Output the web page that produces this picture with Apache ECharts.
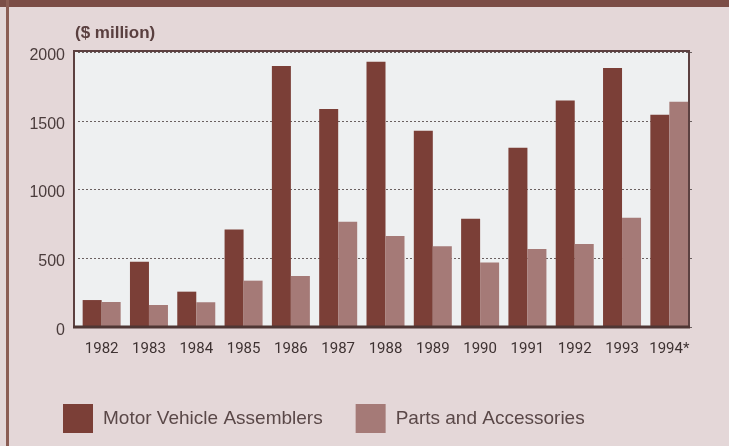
<!DOCTYPE html>
<html>
<head>
<meta charset="utf-8">
<script src="https://cdn.jsdelivr.net/npm/echarts@6/dist/echarts.min.js"></script>
<style>
html,body{margin:0;padding:0;background:#e4d7d8;}
#c{width:729px;height:446px;}
</style>
</head>
<body>
<div id="c"></div>
<script>
var years = ['1982','1983','1984','1985','1986','1987','1988','1989','1990','1991','1992','1993','1994*'];
var motorVehicleAssemblers = [196, 475, 257, 710, 1898, 1585, 1930, 1428, 788, 1304, 1648, 1884, 1544];
var partsAndAccessories = [182, 160, 180, 337, 371, 766, 662, 587, 470, 567, 604, 795, 1639];
var yTicks = [0, 500, 1000, 1500, 2000];
var unitLabel = '($ million)';

var chart = echarts.init(document.getElementById('c'), null, {renderer: 'canvas'});
var option = {
  backgroundColor: '#e4d7d8',
  animation: false,
  title: {
    text: unitLabel,
    left: 70, top: 20,
    textStyle: {fontFamily: 'Liberation Sans', fontWeight: 'bold', fontSize: 17, color: '#5a4040'}
  },
  graphic: [
    {type: 'rect', shape: {x: 0, y: 0, width: 729, height: 7}, style: {fill: '#7b4d46'}, z: 0},
    {type: 'rect', shape: {x: 6, y: 0, width: 3, height: 446}, style: {fill: '#8b5d54'}, z: 0},
    {type: 'rect', shape: {x: 74, y: 51, width: 615, height: 276}, style: {fill: '#eef0f1'}, z: -10, silent: true},
    {type: 'rect', shape: {x: 74, y: 51, width: 615, height: 276}, style: {fill: 'none', stroke: '#5c4040', lineWidth: 2}, z: 100, silent: true},
    {type: 'line', shape: {x1: 73, y1: 327, x2: 690, y2: 327}, style: {stroke: '#4e3634', lineWidth: 3}, z: 100, silent: true}
  ],
  grid: {left: 78, top: 52, width: 615, height: 275, containLabel: false},
  legend: {
    left: 58, top: 399,
    itemWidth: 30, itemHeight: 29, itemGap: 33,
    icon: 'rect',
    textStyle: {fontFamily: 'Liberation Sans', fontSize: 19, color: '#5a4848', padding: [0, 0, 0, 5]},
    data: ['Motor Vehicle Assemblers', 'Parts and Accessories']
  },
  xAxis: {
    type: 'category',
    data: years,
    axisLine: {show: false},
    axisTick: {show: false},
    axisLabel: {fontFamily: 'Roboto', fontSize: 15, color: '#3e3232', margin: 15, interval: 0}
  },
  yAxis: {
    type: 'value',
    min: yTicks[0], max: yTicks[yTicks.length - 1], interval: 500,
    axisLine: {show: false},
    axisTick: {show: false},
    axisLabel: {margin: 13,
      formatter: function (v) { return '{a|' + v + '}'; },
      rich: {a: {fontFamily: 'Liberation Sans', fontSize: 16, color: '#4a3c3c', padding: [7, 0, 0, 0]}}},
    splitLine: {show: true, lineStyle: {color: '#6a6060', type: [2, 2], width: 1}}
  },
  series: [
    {name: 'Motor Vehicle Assemblers', type: 'bar', data: motorVehicleAssemblers, barWidth: 19, barGap: '0%',
     itemStyle: {color: '#7b3f37'}},
    {name: 'Parts and Accessories', type: 'bar', data: partsAndAccessories, barWidth: 19,
     itemStyle: {color: '#a57a77'}}
  ]
};
chart.setOption(option);
</script>
</body>
</html>
